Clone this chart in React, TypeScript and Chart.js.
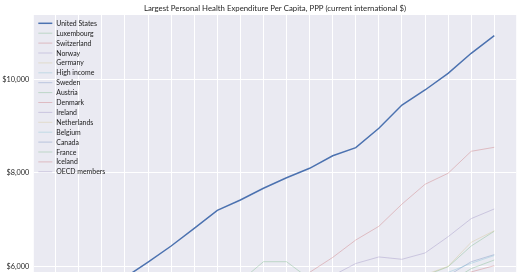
import React, { useEffect, useRef } from 'react';
import { Chart, registerables } from 'chart.js';

Chart.register(...registerables);

const years = [2000, 2001, 2002, 2003, 2004, 2005, 2006, 2007, 2008, 2009, 2010, 2011, 2012, 2013, 2014, 2015, 2016, 2017, 2018, 2019];

const chartTitle = 'Largest Personal Health Expenditure Per Capita, PPP (current international $)';

const seriesNames = [
  'United States', 'Luxembourg', 'Switzerland', 'Norway', 'Germany', 'High income',
  'Sweden', 'Austria', 'Denmark', 'Ireland', 'Netherlands', 'Belgium', 'Canada',
  'France', 'Iceland', 'OECD members',
];

const unitedStates = [4650, 4980, 5350, 5760, 6090, 6434, 6813, 7198, 7418, 7670, 7895, 8096, 8365, 8537, 8952, 9450, 9771, 10128, 10556, 10933];
const luxembourg = [3400, 3700, 4000, 4300, 4600, 4900, 5150, 5400, 5680, 6098, 6098, 5730, 5600, 5500, 5450, 5400, 5500, 5650, 5950, 6135];
const switzerland = [3900, 4100, 4300, 4450, 4600, 4700, 4850, 5050, 5350, 5550, 5700, 5870, 6190, 6563, 6855, 7330, 7754, 7990, 8460, 8545];
const norway = [3300, 3600, 3850, 4100, 4300, 4500, 4750, 5000, 5250, 5350, 5450, 5600, 5800, 6060, 6200, 6150, 6285, 6633, 7020, 7226];
const germany = [2700, 2850, 3000, 3150, 3300, 3450, 3650, 3850, 4050, 4250, 4450, 4650, 4900, 5100, 5300, 5500, 5820, 6000, 6514, 6760];
const highIncome = [3300, 3450, 3650, 3850, 4050, 4250, 4450, 4650, 4850, 5000, 5100, 5200, 5350, 5450, 5600, 5750, 5800, 5870, 6064, 6230];
const sweden = [2800, 2950, 3100, 3250, 3400, 3550, 3750, 3950, 4150, 4300, 4500, 4750, 5000, 5150, 5300, 5450, 5600, 5800, 6098, 6250];
const austria = [2900, 3050, 3200, 3350, 3500, 3650, 3850, 4050, 4250, 4400, 4550, 4700, 4900, 5050, 5200, 5400, 5800, 5990, 6434, 6750];
const denmark = [2700, 2850, 3000, 3150, 3350, 3500, 3700, 3900, 4100, 4300, 4450, 4550, 4700, 4850, 5000, 5200, 5400, 5600, 5880, 6013];
const ireland = [2200, 2450, 2700, 2950, 3200, 3400, 3600, 3800, 4000, 4050, 4100, 4200, 4300, 4400, 4600, 4900, 5100, 5300, 5500, 5700];
const netherlands = [2700, 2900, 3100, 3300, 3500, 3700, 3900, 4100, 4300, 4500, 4700, 4850, 5000, 5100, 5200, 5300, 5400, 5550, 5700, 5850];
const belgium = [2500, 2650, 2800, 2950, 3100, 3250, 3400, 3600, 3800, 4000, 4150, 4300, 4450, 4600, 4750, 4900, 5050, 5200, 5400, 5600];
const canada = [2600, 2750, 2900, 3050, 3200, 3350, 3550, 3750, 3900, 4050, 4200, 4350, 4450, 4550, 4650, 4750, 4900, 5050, 5250, 5450];
const france = [2600, 2750, 2900, 3050, 3200, 3350, 3450, 3600, 3750, 3900, 4000, 4100, 4200, 4350, 4500, 4650, 4800, 4950, 5100, 5300];
const iceland = [2700, 2850, 2950, 3050, 3150, 3200, 3300, 3400, 3450, 3400, 3350, 3450, 3550, 3700, 3900, 4150, 4400, 4700, 5000, 5300];
const oecdMembers = [1900, 2000, 2150, 2300, 2450, 2600, 2750, 2900, 3050, 3150, 3250, 3350, 3450, 3550, 3700, 3850, 4000, 4150, 4350, 4550];

const seriesValues = [
  unitedStates, luxembourg, switzerland, norway, germany, highIncome, sweden, austria,
  denmark, ireland, netherlands, belgium, canada, france, iceland, oecdMembers,
];

const yTickValues = [6000, 8000, 10000];
const yMin = 5878;
const yMax = 11375;

const palette = [
  [76, 114, 176],
  [85, 168, 104],
  [196, 78, 82],
  [129, 114, 178],
  [204, 185, 116],
  [100, 181, 205],
];

const FONT = 'Lato, "Noto Sans", sans-serif';

const backgroundPlugin = {
  id: 'seabornBg',
  beforeDraw(chart: any) {
    const { ctx, chartArea: a } = chart;
    ctx.save();
    ctx.fillStyle = '#ffffff';
    ctx.fillRect(0, 0, chart.width, chart.height);
    ctx.fillStyle = '#EAEAF2';
    ctx.fillRect(a.left, a.top, a.right - a.left, a.bottom - a.top);
    ctx.restore();
  },
};

const titlePlugin = {
  id: 'mplTitle',
  afterDraw(chart: any) {
    const { ctx, chartArea: a } = chart;
    ctx.save();
    ctx.font = `7.8px ${FONT}`;
    ctx.fillStyle = '#262626';
    ctx.textAlign = 'center';
    ctx.textBaseline = 'middle';
    ctx.fillText(chartTitle, (a.left + a.right) / 2, 8.3);
    ctx.restore();
  },
};

const legendPlugin = {
  id: 'mplLegend',
  afterDatasetsDraw(chart: any) {
    const { ctx, chartArea: a } = chart;
    ctx.save();
    ctx.font = `6.9px ${FONT}`;
    ctx.textAlign = 'left';
    ctx.textBaseline = 'middle';
    chart.data.datasets.forEach((ds: any, k: number) => {
      const y = a.top + 8.3 + k * 9.9;
      ctx.strokeStyle = ds.borderColor;
      ctx.lineWidth = ds.borderWidth;
      ctx.beginPath();
      ctx.moveTo(a.left + 4.5, y);
      ctx.lineTo(a.left + 18.5, y);
      ctx.stroke();
      ctx.fillStyle = '#1a1a1a';
      ctx.fillText(ds.label, a.left + 22.5, y + 0.3);
    });
    ctx.restore();
  },
};

export default function App() {
  const canvasRef = useRef<HTMLCanvasElement | null>(null);

  useEffect(() => {
    if (!canvasRef.current) return;
    const datasets = seriesNames.map((name, k) => {
      const c = palette[k % palette.length];
      const isMain = k === 0;
      return {
        label: name,
        data: years.map((yr, i) => ({ x: yr, y: seriesValues[k][i] })),
        borderColor: isMain ? `rgb(${c[0]},${c[1]},${c[2]})` : `rgba(${c[0]},${c[1]},${c[2]},0.3)`,
        borderWidth: isMain ? 1.5 : 1,
        pointRadius: 0,
        tension: 0,
        fill: false,
      };
    });

    const chart = new Chart(canvasRef.current, {
      type: 'line',
      data: { datasets },
      plugins: [backgroundPlugin, titlePlugin, legendPlugin],
      options: {
        animation: false,
        responsive: false,
        devicePixelRatio: 1,
        layout: { padding: { left: 0, right: 3.8, top: 15, bottom: 0 } },
        plugins: {
          legend: { display: false },
          tooltip: { enabled: false },
          title: { display: false },
        },
        scales: {
          x: {
            type: 'linear',
            min: years[0] - 0.95,
            max: years[years.length - 1] + 0.95,
            afterBuildTicks: (scale: any) => {
              scale.ticks = years.map((v) => ({ value: v }));
            },
            afterFit: (scale: any) => {
              scale.height = 0;
              scale.paddingLeft = 0;
              scale.paddingRight = 0;
              scale.paddingTop = 0;
              scale.paddingBottom = 0;
            },
            ticks: { display: false },
            grid: { color: '#ffffff', lineWidth: 1, drawTicks: false },
            border: { display: false },
          },
          y: {
            type: 'linear',
            min: yMin,
            max: yMax,
            afterBuildTicks: (scale: any) => {
              scale.ticks = yTickValues.map((v) => ({ value: v }));
            },
            afterFit: (scale: any) => {
              scale.width = 33.8;
              scale.paddingTop = 0;
              scale.paddingBottom = 0;
              scale.paddingLeft = 0;
              scale.paddingRight = 0;
            },
            ticks: {
              padding: 4.5,
              color: '#262626',
              font: { family: FONT, size: 7.3 },
              callback: (v: any) => '$' + Number(v).toLocaleString('en-US'),
            },
            grid: { color: '#ffffff', lineWidth: 1, drawTicks: false },
            border: { display: false },
          },
        },
      } as any,
    });
    return () => chart.destroy();
  }, []);

  return (
    <div style={{ position: 'fixed', left: 0, top: 0, width: 520, height: 272, overflow: 'hidden', background: '#fff' }}>
      <canvas ref={canvasRef} width={520} height={272} style={{ width: 520, height: 272, display: 'block' }} />
    </div>
  );
}
